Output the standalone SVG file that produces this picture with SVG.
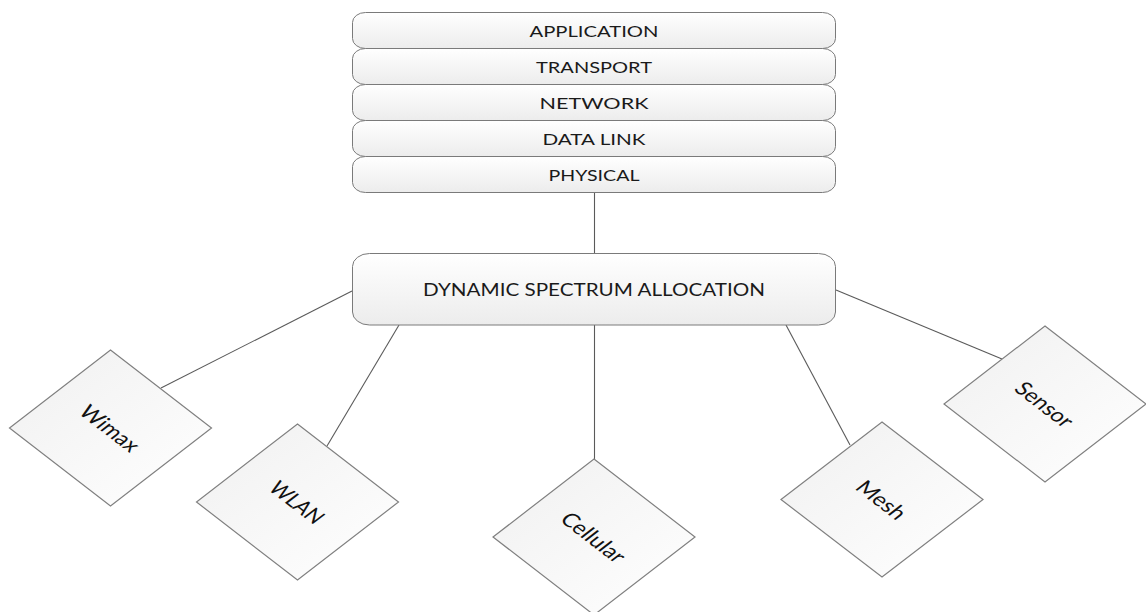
<svg xmlns="http://www.w3.org/2000/svg" width="1146" height="612" viewBox="0 0 1146 612">
<style>
.box{fill:url(#gBox);stroke:#7a7a7a;stroke-width:1}
.dia{fill:url(#gDia);stroke:#808080;stroke-width:1.2}
.lbl{font-family:Lato,"Open Sans","Liberation Sans",sans-serif;font-size:16px;fill:#1a1a1a;text-anchor:middle;dominant-baseline:central}
.dl{font-size:19px;fill:#111111}
.con line{stroke:#5a5a5a;stroke-width:1.1}
</style>
<defs>
<linearGradient id="gBox" x1="0" y1="0" x2="0" y2="1">
<stop offset="0" stop-color="#ffffff"/>
<stop offset="1" stop-color="#ececec"/>
</linearGradient>
<linearGradient id="gDia" x1="0" y1="0" x2="1" y2="1">
<stop offset="0" stop-color="#f0f0f0"/>
<stop offset="1" stop-color="#ffffff"/>
</linearGradient>
</defs>
<rect width="1146" height="612" fill="#ffffff"/>
<g id="connectors" class="con">
<line x1="594.5" y1="192" x2="594.5" y2="253"/>
<line x1="352" y1="291" x2="161" y2="388"/>
<line x1="399" y1="325" x2="327" y2="446"/>
<line x1="594.5" y1="325" x2="594.5" y2="459"/>
<line x1="786" y1="325" x2="850" y2="445"/>
<line x1="836" y1="290" x2="1002" y2="359"/>
</g>
<g id="application">
<rect class="box" x="352.5" y="12.5" width="483" height="36" rx="13" ry="10"/>
<text class="lbl" x="594" y="30" textLength="129" lengthAdjust="spacingAndGlyphs">APPLICATION</text>
</g>
<g id="transport">
<rect class="box" x="352.5" y="48.5" width="483" height="36" rx="13" ry="10"/>
<text class="lbl" x="594" y="66.5" textLength="116" lengthAdjust="spacingAndGlyphs">TRANSPORT</text>
</g>
<g id="network">
<rect class="box" x="352.5" y="84.5" width="483" height="36" rx="13" ry="10"/>
<text class="lbl" x="594" y="102.5" textLength="109" lengthAdjust="spacingAndGlyphs">NETWORK</text>
</g>
<g id="datalink">
<rect class="box" x="352.5" y="120.5" width="483" height="36" rx="13" ry="10"/>
<text class="lbl" x="594" y="138.5" textLength="103" lengthAdjust="spacingAndGlyphs">DATA LINK</text>
</g>
<g id="physical">
<rect class="box" x="352.5" y="156.5" width="483" height="36" rx="13" ry="10"/>
<text class="lbl" x="594" y="174.5" textLength="91" lengthAdjust="spacingAndGlyphs">PHYSICAL</text>
</g>
<g id="dsa">
<rect class="box" x="352.5" y="253.5" width="483" height="71.5" rx="17" ry="13"/>
<text class="lbl" x="594" y="289" style="font-size:18px" textLength="342" lengthAdjust="spacingAndGlyphs">DYNAMIC SPECTRUM ALLOCATION</text>
</g>
<g id="wimax">
<polygon class="dia" points="110.5,350 211.5,428 110.5,506 9.5,428"/>
<text class="lbl dl" transform="translate(110.5,428) scale(1.3,1) rotate(45)" textLength="57" lengthAdjust="spacingAndGlyphs">Wimax</text>
</g>
<g id="wlan">
<polygon class="dia" points="297.5,424 398.5,502 297.5,580 196.5,502"/>
<text class="lbl dl" transform="translate(297.5,502) scale(1.3,1) rotate(45)" textLength="51" lengthAdjust="spacingAndGlyphs">WLAN</text>
</g>
<g id="cellular">
<polygon class="dia" points="594,459 695,537 594,615 493,537"/>
<text class="lbl dl" transform="translate(594,537) scale(1.3,1) rotate(45)" textLength="62" lengthAdjust="spacingAndGlyphs">Cellular</text>
</g>
<g id="mesh">
<polygon class="dia" points="882,422 983,499.5 882,577 781,499.5"/>
<text class="lbl dl" transform="translate(882,499.5) scale(1.3,1) rotate(45)" textLength="46" lengthAdjust="spacingAndGlyphs">Mesh</text>
</g>
<g id="sensor">
<polygon class="dia" points="1045,326 1146,404 1045,482 944,404"/>
<text class="lbl dl" transform="translate(1045,404) scale(1.3,1) rotate(45)" textLength="55" lengthAdjust="spacingAndGlyphs">Sensor</text>
</g>
</svg>
